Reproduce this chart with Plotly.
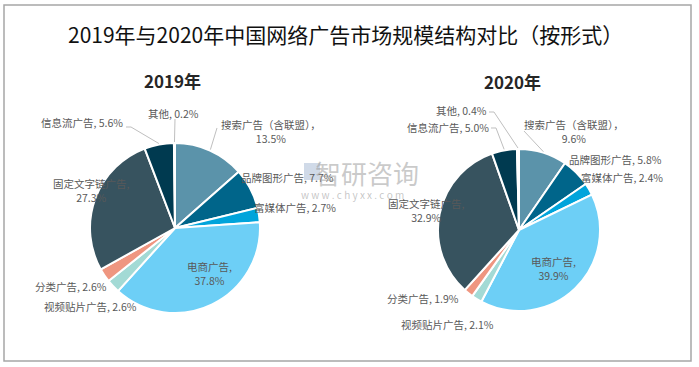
import math
import plotly.graph_objects as go

# ---------------- data ----------------
categories = ["搜索广告（含联盟）", "品牌图形广告", "富媒体广告", "电商广告", "视频贴片广告",
              "分类广告", "固定文字链广告", "信息流广告", "其他"]
values_2019 = [13.5, 7.7, 2.7, 37.8, 2.6, 2.6, 27.3, 5.6, 0.2]
values_2020 = [9.6, 5.8, 2.4, 39.9, 2.1, 1.9, 32.9, 5.0, 0.4]
years = ["2019年", "2020年"]
title_text = "2019年与2020年中国网络广告市场规模结构对比（按形式）"

# ---------------- styles ----------------
W, H = 699, 367
colors = ["#5B93AA", "#00658A", "#00A4DB", "#6DCFF6", "#A3DAD5",
          "#EF9680", "#37535F", "#003A50", "#EFEFEF"]
FONT = "Noto Sans CJK SC"
LBL_COLOR = "#595959"
LBL_SIZE = 10.5

# pie geometry (pixels): center x, center y, radius
pies = [dict(cx=175, cy=228, r=85), dict(cx=519, cy=230, r=81)]

def px(x):
    return x / W

def py(y):
    return 1 - y / H

fig = go.Figure()
for vals, g in zip([values_2019, values_2020], pies):
    fig.add_trace(go.Pie(
        labels=categories, values=vals, sort=False, direction="clockwise",
        rotation=0, textinfo="none", hoverinfo="label+percent",
        marker=dict(colors=colors, line=dict(color="white", width=2)),
        domain=dict(x=[px(g["cx"] - g["r"]), px(g["cx"] + g["r"])],
                    y=[py(g["cy"] + g["r"]), py(g["cy"] - g["r"])]),
        showlegend=False,
    ))

# label layout: (category index -> center x, center y) in pixels, per pie
label_pos = [
    {0: (271, 131), 1: (287, 177), 2: (295, 207), 3: (209, 273), 4: (90, 306),
     5: (71, 286), 6: (91, 190), 7: (82, 123), 8: (173, 113)},
    {0: (574, 131), 1: (615, 159), 2: (622, 177), 3: (553, 268), 4: (447, 324),
     5: (423, 298), 6: (427, 210), 7: (448, 127), 8: (461, 110)},
]
two_line = {0, 3, 6}
# leader line start points (pixels), per pie; each ends at its slice edge
leader = [
    {0: [(217, 128)], 7: [(126, 127), (131, 127)], 8: [(175, 119)]},
    {0: [(524, 131)], 7: [(491, 128), (496, 128)], 8: [(489, 112), (494, 112)]},
]

annotations = []
shapes = []
for vals, g, lp, ld in zip([values_2019, values_2020], pies, label_pos, leader):
    total = sum(vals)
    cum = 0
    mids = []
    for v in vals:
        mids.append((cum + v / 2) / total * 2 * math.pi)
        cum += v
    for i, (x, y) in lp.items():
        name = categories[i]
        pct = f"{vals[i]:.1f}%"
        if i in two_line:
            txt = f"{name}，<br>{pct}" if i == 0 else f"{name},<br>{pct}"
        else:
            txt = f"{name}, {pct}"
        annotations.append(dict(
            text=txt, x=px(x), y=py(y), xref="paper", yref="paper",
            xanchor="center", yanchor="middle", align="center", showarrow=False,
            font=dict(family=FONT, size=LBL_SIZE, color=LBL_COLOR)))
    for i, pts in ld.items():
        a = mids[i]
        ex = g["cx"] + (g["r"] + 1) * math.sin(a)
        ey = g["cy"] - (g["r"] + 1) * math.cos(a)
        allpts = pts + [(ex, ey)]
        path = "M " + " L ".join(f"{px(x):.5f},{py(y):.5f}" for x, y in allpts)
        shapes.append(dict(type="path", path=path, xref="paper", yref="paper",
                           line=dict(color="#BFBFBF", width=1)))

# year subtitles
for yr, (x, y) in zip(years, [(172, 80), (512, 82)]):
    annotations.append(dict(text=f"<b>{yr}</b>", x=px(x), y=py(y), xref="paper", yref="paper",
                            showarrow=False, xanchor="center", yanchor="middle",
                            font=dict(family=FONT, size=17, color="#262626")))

# main title
annotations.append(dict(text=title_text, x=px(345), y=py(34), xref="paper", yref="paper",
                        showarrow=False, xanchor="center", yanchor="middle",
                        font=dict(family=FONT, size=21, color="#111111")))

# watermark
annotations.append(dict(text="智研咨询", x=px(367), y=py(172), xref="paper", yref="paper",
                        showarrow=False, xanchor="center", yanchor="middle",
                        font=dict(family=FONT, size=26, color="rgba(150,150,150,0.5)")))
annotations.append(dict(text="w w w . c h y x x . c o m", x=px(352), y=py(194), xref="paper",
                        yref="paper", showarrow=False, xanchor="center", yanchor="middle",
                        font=dict(family=FONT, size=10, color="rgba(150,150,150,0.55)")))
shapes.append(dict(type="rect", xref="paper", yref="paper", x0=px(304), x1=px(320),
                   y0=py(180), y1=py(163), line=dict(width=0),
                   fillcolor="rgba(120,150,190,0.35)"))

# outer frame
shapes.append(dict(type="rect", xref="paper", yref="paper", x0=px(4), x1=px(691),
                   y0=py(361), y1=py(5), line=dict(color="#A6A6A6", width=1.5),
                   fillcolor="rgba(0,0,0,0)"))

fig.update_layout(
    width=W, height=H, margin=dict(l=0, r=0, t=0, b=0),
    paper_bgcolor="white", plot_bgcolor="white",
    annotations=annotations, shapes=shapes,
    font=dict(family=FONT),
)

fig.write_html("out.html", config={"displayModeBar": False},
               post_script="document.body.style.margin='0';document.body.style.overflow='hidden';")
